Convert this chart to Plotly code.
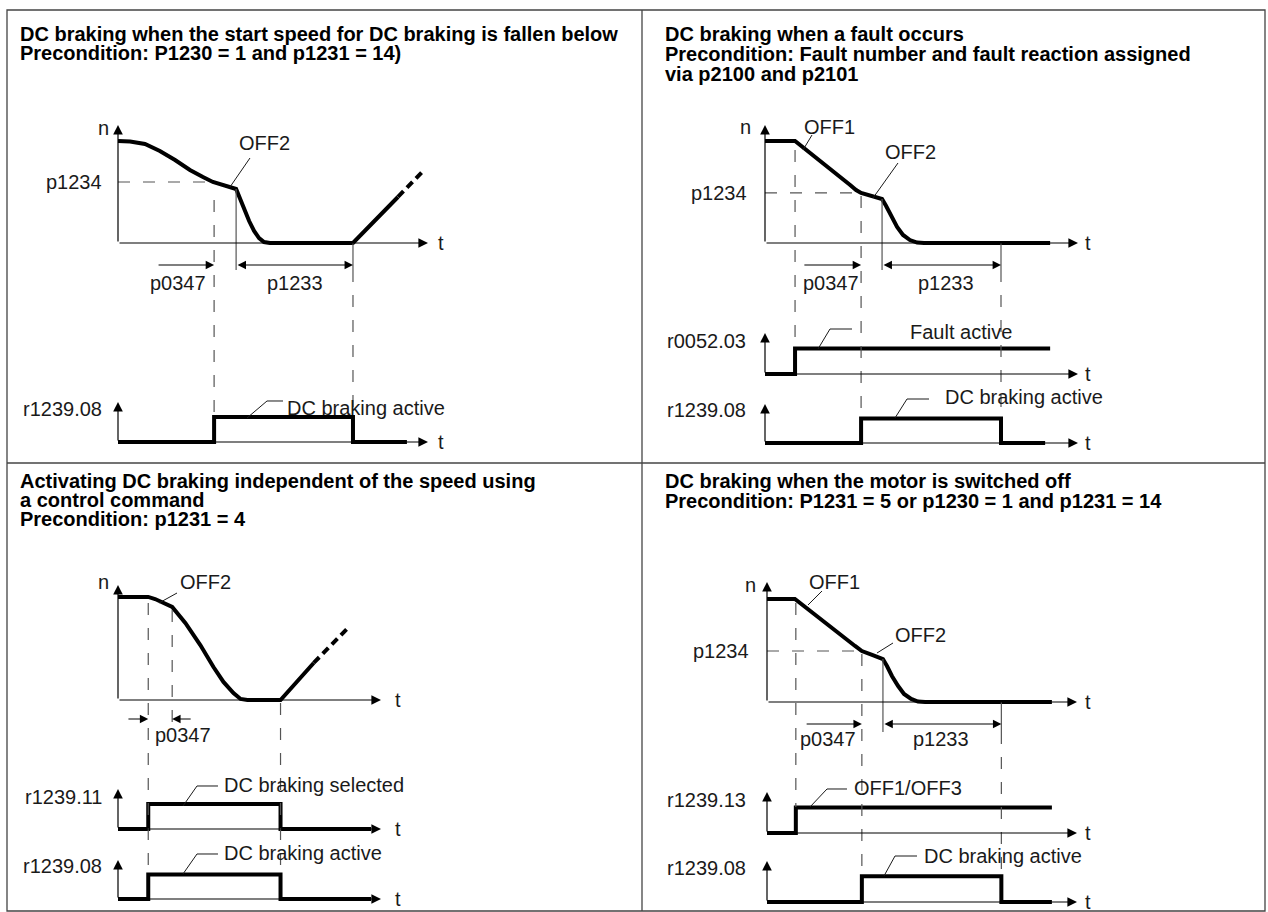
import plotly.graph_objects as go

W, H = 1268, 912
BLACK = "#000000"
INK = "#1a1a1a"
GREY = "#555555"
FONT = "Liberation Sans, Arial, Helvetica, sans-serif"
DASH = "12px,13px"

# ---------------- data ----------------
# time = % of each panel's t axis, speed = % of the n axis, status bits = 0/1

# top left: DC braking when the start speed for DC braking is fallen below
tl_t = [0, 3.9, 8.7, 13.5, 18.4, 23.2, 27.4, 30.6, 38.1, 39.0, 40.6, 42.3, 43.9, 45.5, 47.1, 49.0, 75.8, 90.3]
tl_n = [86.4, 86.0, 83.9, 78.0, 70.3, 61.9, 55.9, 51.7, 45.8, 39.8, 28.8, 18.6, 10.2, 4.2, 0.8, 0, 0, 39.0]
tl_ramp_t = [90.3, 98.1]
tl_ramp_n = [39.0, 60.2]
tl_p1234 = 51.7
tl_brake_t = [0, 31, 31, 75.8, 75.8, 93.2]
tl_brake = [0, 0, 1, 1, 0, 0]
tl_marks = [31, 38.1, 75.8]          # below p1234, OFF2, end of p1233
tl_p0347_from = 12.6

# top right: DC braking when a fault occurs
tr_t = [0, 9.6, 27.2, 29.1, 30.7, 33.9, 37.4, 38.7, 40.3, 42.2, 44.1, 46.3, 48.6, 50.8, 91.1]
tr_n = [86.4, 86.4, 49.2, 44.9, 42.4, 39.8, 37.3, 31.4, 22.9, 13.6, 6.8, 2.5, 0.4, 0, 0]
tr_p1234 = 42.4
tr_fault_t = [0, 9.6, 9.6, 91.1]
tr_fault = [0, 0, 1, 1]
tr_brake_t = [0, 30.7, 30.7, 75.4, 75.4, 89.5]
tr_brake = [0, 0, 1, 1, 0, 0]
tr_marks = [9.6, 30.7, 37.4, 75.4]   # OFF1, below p1234, OFF2, end of p1233
tr_p0347_from = 12.1

# bottom left: DC braking by control command
bl_t = [0, 11.5, 14.1, 17.2, 20.6, 25.6, 31.3, 36.3, 40.1, 43.9, 46.6, 49.2, 61.8, 74.4]
bl_n = [89.6, 89.6, 87.8, 84.3, 80.9, 67.0, 47.8, 28.7, 15.7, 6.1, 0.9, 0, 0, 32.2]
bl_ramp_t = [74.4, 87.4]
bl_ramp_n = [32.2, 62.6]
bl_sel_t = [0, 11.5, 11.5, 61.8, 61.8, 96.2]
bl_sel = [0, 0, 1, 1, 0, 0]
bl_brake_t = [0, 11.5, 11.5, 61.8, 61.8, 96.2]
bl_brake = [0, 0, 1, 1, 0, 0]
bl_marks = [11.5, 20.6, 61.8]        # selected, OFF2, end
bl_p0347_tails = [3.4, 28.2]

# bottom right: DC braking when the motor is switched off
br_t = [0, 9.0, 28.4, 30.6, 33.9, 37.4, 38.7, 40.3, 42.3, 44.2, 46.5, 48.7, 51.0, 91.9]
br_n = [85.8, 85.8, 46.7, 42.5, 39.2, 35.8, 30.0, 21.7, 13.3, 6.7, 2.5, 0.4, 0, 0]
br_p1234 = 42.5
br_off_t = [0, 9.3, 9.3, 91.9]
br_off = [0, 0, 1, 1]
br_brake_t = [0, 30.6, 30.6, 75.6, 75.6, 91.9]
br_brake = [0, 0, 1, 1, 0, 0]
br_marks = [9.3, 30.6, 37.4, 75.6]
br_p0347_from = 12.3

fig = go.Figure()
axes = {}
annotations = []
shapes = []


def _name(kind, i):
    return kind + ("" if i == 1 else str(i))


def new_x(x0, x1, pad=40):
    i = sum(k.startswith("xaxis") for k in axes) + 1
    k = (x1 - x0) / 100
    axes[_name("xaxis", i)] = dict(domain=[(x0 - pad) / W, (x1 + pad) / W],
                                   range=[-pad / k, 100 + pad / k], visible=False, fixedrange=True)
    return _name("x", i)


def new_y(xid, base, tip, top, pad):
    i = sum(k.startswith("yaxis") for k in axes) + 1
    k = (base - tip) / top
    lo = min(pad, H - base)
    hi = min(pad, tip)
    axes[_name("yaxis", i)] = dict(domain=[1 - (base + lo) / H, 1 - (tip - hi) / H],
                                   range=[-lo / k, top + hi / k], visible=False,
                                   fixedrange=True, anchor=xid)
    return _name("y", i)


def curve(xid, yid, t, v, dash=None):
    fig.add_trace(go.Scatter(x=t, y=v, xaxis=xid, yaxis=yid, mode="lines",
                             line=dict(color=BLACK, width=4, dash=dash),
                             hoverinfo="skip", showlegend=False))


def arrow(**kw):
    base = dict(text="", showarrow=True, arrowhead=2, arrowsize=1.6, arrowwidth=1.2,
                arrowcolor=BLACK, standoff=0, startstandoff=0)
    base.update(kw)
    annotations.append(base)


def axis_arrows(xid, yid, top):
    arrow(x=100, y=0, ax=0, ay=0, xref=xid, yref=yid, axref=xid, ayref=yid)
    arrow(x=0, y=top, ax=0, ay=0, xref=xid, yref=yid, axref=xid, ayref=yid)


def dim(xid, head, tail, y, both=False):
    arrow(x=head, ax=tail, xref=xid, axref=xid, y=1 - y / H, yref="paper", ay=0,
          ayref="pixel", arrowside="end+start" if both else "end", arrowsize=1.4)


def vline(xid, t, y0, y1, dashed=True):
    shapes.append(dict(type="line", xref=xid, yref="paper", x0=t, x1=t,
                       y0=1 - y0 / H, y1=1 - y1 / H,
                       line=dict(color=GREY, width=1.2, dash=DASH if dashed else "solid")))


def hdash(xid, yid, t1, level):
    shapes.append(dict(type="line", xref=xid, yref=yid, x0=0, x1=t1, y0=level, y1=level,
                       line=dict(color=GREY, width=1.2, dash=DASH)))


def label(text, x, y, anchor="left", bold=False):
    annotations.append(dict(text=f"<b>{text}</b>" if bold else text, x=x / W, y=1 - y / H,
                            xref="paper", yref="paper", xanchor=anchor, yanchor="middle",
                            showarrow=False,
                            font=dict(family=FONT, size=20, color=BLACK if bold else INK)))


def leader(points):
    path = "M" + " L".join(f"{x / W:.5f},{1 - y / H:.5f}" for x, y in points)
    shapes.append(dict(type="path", xref="paper", yref="paper", path=path,
                       line=dict(color=INK, width=1)))


# ---------------- top left ----------------
x1 = new_x(118, 428)
n1 = new_y(x1, 243, 125, 100, 30)
s1 = new_y(x1, 442, 402, 1.6, 12)
curve(x1, n1, tl_t, tl_n)
curve(x1, n1, tl_ramp_t, tl_ramp_n, dash="8px,5px")
curve(x1, s1, tl_brake_t, tl_brake)
axis_arrows(x1, n1, 100)
axis_arrows(x1, s1, 1.6)
hdash(x1, n1, tl_marks[0], tl_p1234)
vline(x1, tl_marks[0], 200, 417)
vline(x1, tl_marks[1], 189, 270, dashed=False)
vline(x1, tl_marks[2], 243, 270, dashed=False)
vline(x1, tl_marks[2], 270, 417)
dim(x1, tl_marks[0], tl_p0347_from, 265)
dim(x1, tl_marks[2], tl_marks[1], 265, both=True)
label("DC braking when the start speed for DC braking is fallen below", 18, 33.5, bold=True)
label("Precondition: P1230 = 1 and p1231 = 14)", 18, 53, bold=True)
label("n", 111, 128, "right")
label("p1234", 104, 182, "right")
label("t", 436, 243)
label("OFF2", 237, 143)
label("p0347", 178, 283, "center")
label("p1233", 295, 283, "center")
label("r1239.08", 104, 409, "right")
label("t", 436, 442)
label("DC braking active", 285, 408)
leader([(250, 158), (230, 187)])
leader([(283, 401), (267, 401), (247, 418)])

# ---------------- top right ----------------
x2 = new_x(765, 1078)
n2 = new_y(x2, 243, 125, 100, 30)
f2 = new_y(x2, 374, 333, 1.6, 12)
s2 = new_y(x2, 443, 404, 1.6, 12)
curve(x2, n2, tr_t, tr_n)
curve(x2, f2, tr_fault_t, tr_fault)
curve(x2, s2, tr_brake_t, tr_brake)
axis_arrows(x2, n2, 100)
axis_arrows(x2, f2, 1.6)
axis_arrows(x2, s2, 1.6)
hdash(x2, n2, tr_marks[1], tr_p1234)
vline(x2, tr_marks[0], 150, 349)
vline(x2, tr_marks[1], 196, 418)
vline(x2, tr_marks[2], 199, 270, dashed=False)
vline(x2, tr_marks[3], 243, 270, dashed=False)
vline(x2, tr_marks[3], 270, 418)
dim(x2, tr_marks[1], tr_p0347_from, 265)
dim(x2, tr_marks[3], tr_marks[2], 265, both=True)
label("DC braking when a fault occurs", 663, 33.5, bold=True)
label("Precondition: Fault number and fault reaction assigned", 663, 53.5, bold=True)
label("via p2100 and p2101", 663, 74, bold=True)
label("n", 753, 127, "right")
label("OFF1", 802, 127)
label("OFF2", 883, 152)
label("p1234", 749, 193, "right")
label("t", 1083, 243)
label("p0347", 831, 283, "center")
label("p1233", 946, 283, "center")
label("Fault active", 908, 332)
label("r0052.03", 748, 341, "right")
label("t", 1083, 374)
label("DC braking active", 943, 397)
label("r1239.08", 748, 410, "right")
label("t", 1083, 443)
leader([(812, 135), (803, 150)])
leader([(898, 163), (873, 198)])
leader([(852, 329), (830, 329), (818, 349)])
leader([(929, 399), (907, 399), (895, 418)])

# ---------------- bottom left ----------------
x3 = new_x(118, 381)
n3 = new_y(x3, 700, 585, 100, 30)
c3 = new_y(x3, 829, 789, 1.6, 12)
s3 = new_y(x3, 899, 860, 1.6, 12)
curve(x3, n3, bl_t, bl_n)
curve(x3, n3, bl_ramp_t, bl_ramp_n, dash="8px,5px")
curve(x3, c3, bl_sel_t, bl_sel)
curve(x3, s3, bl_brake_t, bl_brake)
axis_arrows(x3, n3, 100)
axis_arrows(x3, c3, 1.6)
axis_arrows(x3, s3, 1.6)
vline(x3, bl_marks[0], 603, 873)
vline(x3, bl_marks[1], 610, 728)
vline(x3, bl_marks[2], 703, 873)
dim(x3, bl_marks[0], bl_p0347_tails[0], 719)
dim(x3, bl_marks[1], bl_p0347_tails[1], 719)
label("Activating DC braking independent of the speed using", 18, 480.5, bold=True)
label("a control command", 18, 499.5, bold=True)
label("Precondition: p1231 = 4", 18, 518.5, bold=True)
label("n", 111, 582, "right")
label("OFF2", 178, 582)
label("t", 393, 700)
label("p0347", 183, 735, "center")
label("DC braking selected", 222, 785)
label("r1239.11", 104, 797, "right")
label("t", 393, 829)
label("DC braking active", 222, 853)
label("r1239.08", 104, 866, "right")
label("t", 393, 899)
leader([(177, 593), (159, 603)])
leader([(218, 786), (197, 786), (183, 806)])
leader([(218, 854), (197, 854), (183, 874)])

# ---------------- bottom right ----------------
x4 = new_x(767, 1077)
n4 = new_y(x4, 702, 582, 100, 30)
o4 = new_y(x4, 833, 792, 1.6, 12)
s4 = new_y(x4, 902, 861, 1.6, 12)
curve(x4, n4, br_t, br_n)
curve(x4, o4, br_off_t, br_off)
curve(x4, s4, br_brake_t, br_brake)
axis_arrows(x4, n4, 100)
axis_arrows(x4, o4, 1.6)
axis_arrows(x4, s4, 1.6)
hdash(x4, n4, br_marks[1], br_p1234)
vline(x4, br_marks[0], 603, 807)
vline(x4, br_marks[1], 654, 876)
vline(x4, br_marks[2], 659, 732, dashed=False)
vline(x4, br_marks[3], 702, 732, dashed=False)
vline(x4, br_marks[3], 732, 876)
dim(x4, br_marks[1], br_p0347_from, 724)
dim(x4, br_marks[3], br_marks[2], 724, both=True)
label("DC braking when the motor is switched off", 663, 480.5, bold=True)
label("Precondition: P1231 = 5 or p1230 = 1 and p1231 = 14", 663, 501, bold=True)
label("n", 758, 585, "right")
label("OFF1", 807, 582)
label("OFF2", 893, 635)
label("p1234", 751, 651, "right")
label("t", 1083, 702)
label("p0347", 828, 739, "center")
label("p1233", 941, 739, "center")
label("OFF1/OFF3", 852, 788)
label("r1239.13", 748, 800, "right")
label("t", 1083, 833)
label("DC braking active", 922, 856)
label("r1239.08", 748, 868, "right")
label("t", 1083, 902)
leader([(822, 591), (808, 605)])
leader([(893, 643), (877, 653)])
leader([(847, 789), (827, 789), (810, 807)])
leader([(917, 856), (895, 856), (884, 876)])

# ---------------- frame ----------------
frame = dict(color="#444444", width=1.3)
shapes.append(dict(type="rect", xref="paper", yref="paper", x0=7 / W, x1=1265 / W,
                   y0=1 - 911 / H, y1=1 - 10 / H, line=frame))
shapes.append(dict(type="line", xref="paper", yref="paper", x0=642 / W, x1=642 / W,
                   y0=1 - 911 / H, y1=1 - 10 / H, line=frame))
shapes.append(dict(type="line", xref="paper", yref="paper", x0=7 / W, x1=1265 / W,
                   y0=1 - 463 / H, y1=1 - 463 / H, line=frame))

fig.update_layout(
    width=W, height=H, autosize=False,
    margin=dict(l=0, r=0, t=0, b=0, pad=0),
    paper_bgcolor="white", plot_bgcolor="rgba(0,0,0,0)",
    showlegend=False,
    annotations=annotations, shapes=shapes,
    **axes,
)

fig.write_html("out.html", config={"displayModeBar": False},
               post_script="document.body.style.margin='0';")
